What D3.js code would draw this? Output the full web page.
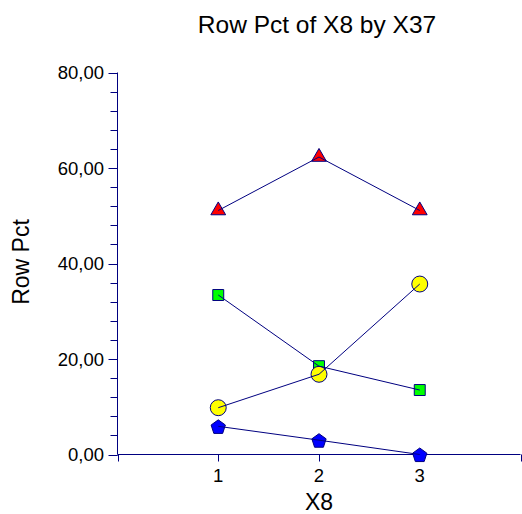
<!DOCTYPE html>
<html>
<head>
<meta charset="utf-8">
<script src="https://cdn.jsdelivr.net/npm/d3@7"></script>
<style>
  body { margin: 0; background: #fff; }
  text { font-family: Arial, "Liberation Sans", sans-serif; fill: #000; }
</style>
</head>
<body>
<script>
// X8 categories and the Row Pct of each X37 group
const categories = [1, 2, 3];
const triangleVals = [51.1, 62.3, 51.1];
const squareVals = [33.4, 18.5, 13.5];
const circleVals = [9.8, 16.8, 35.7];
const pentagonVals = [5.9, 3.0, 0.0];
const yTicks = [0, 20, 40, 60, 80];
const yMinor = d3.range(0, 81, 4);

const width = 522, height = 514;
const navy = "#000080";

const x = d3.scaleLinear().domain([0, 4]).range([117.5, 520.5]);
const y = d3.scaleLinear().domain([0, 80]).range([454.5, 72.5]);

const svg = d3.select("body").append("svg")
    .attr("width", width)
    .attr("height", height);

// y axis
svg.append("line")
    .attr("x1", x(0)).attr("x2", x(0))
    .attr("y1", y(0)).attr("y2", y(80))
    .attr("stroke", navy);
svg.selectAll(".ymin")
    .data(yMinor)
    .enter().append("line")
    .attr("x1", x(0) - 7).attr("x2", x(0))
    .attr("y1", d => Math.round(y(d)) + 0.5)
    .attr("y2", d => Math.round(y(d)) + 0.5)
    .attr("stroke", navy);
svg.selectAll(".ytick")
    .data(yTicks)
    .enter().append("line")
    .attr("x1", x(0) - 9).attr("x2", x(0))
    .attr("y1", d => Math.round(y(d)) + 0.5)
    .attr("y2", d => Math.round(y(d)) + 0.5)
    .attr("stroke", navy);
svg.selectAll(".ylab")
    .data(yTicks)
    .enter().append("text")
    .attr("x", 104)
    .attr("y", d => y(d) + 6.5)
    .attr("text-anchor", "end")
    .attr("font-size", 18.5)
    .text(d => d3.format(".2f")(d).replace(".", ","));

// x axis
svg.append("line")
    .attr("x1", x(0)).attr("x2", x(4))
    .attr("y1", y(0)).attr("y2", y(0))
    .attr("stroke", navy);
svg.selectAll(".xtick")
    .data([0, 1, 2, 3, 4])
    .enter().append("line")
    .attr("x1", d => Math.round(x(d)) + 0.5)
    .attr("x2", d => Math.round(x(d)) + 0.5)
    .attr("y1", y(0)).attr("y2", y(0) + 7)
    .attr("stroke", navy);
svg.selectAll(".xlab")
    .data(categories)
    .enter().append("text")
    .attr("x", d => x(d))
    .attr("y", 481.5)
    .attr("text-anchor", "middle")
    .attr("font-size", 18.5)
    .text(d => d);

// titles
svg.append("text")
    .attr("x", 317).attr("y", 32.5)
    .attr("text-anchor", "middle")
    .attr("font-size", 24.5)
    .text("Row Pct of X8 by X37");
svg.append("text")
    .attr("transform", "translate(29,262) rotate(-90)")
    .attr("text-anchor", "middle")
    .attr("font-size", 23)
    .text("Row Pct");
svg.append("text")
    .attr("x", 319).attr("y", 510)
    .attr("text-anchor", "middle")
    .attr("font-size", 23)
    .text("X8");

const series = [
    { vals: triangleVals, shape: d3.symbolTriangle, size: 95, fill: "#ff0000" },
    { vals: squareVals, shape: d3.symbolSquare, size: 120, fill: "#00ff00" },
    { vals: circleVals, shape: d3.symbolCircle, size: 200, fill: "#ffff00" },
    { vals: pentagonVals, shape: "pentagon", size: 7.5, fill: "#0000ff" }
];

function pentagon(r) {
    const pts = d3.range(5).map(i => {
        const a = -Math.PI / 2 + i * 2 * Math.PI / 5;
        return [r * Math.cos(a), r * Math.sin(a) + 1];
    });
    return "M" + pts.join("L") + "Z";
}

const line = d3.line()
    .x((d, i) => x(categories[i]))
    .y(d => y(d));

// markers first, connecting lines drawn over them
series.forEach(s => {
    svg.selectAll(null)
        .data(s.vals)
        .enter().append("path")
        .attr("transform", (d, i) => `translate(${x(categories[i])},${y(d)})`)
        .attr("d", s.shape === "pentagon" ? pentagon(s.size) : d3.symbol().type(s.shape).size(s.size)())
        .attr("fill", s.fill)
        .attr("stroke", navy)
        .attr("stroke-width", 1);
});
series.forEach(s => {
    svg.append("path")
        .datum(s.vals)
        .attr("d", line)
        .attr("fill", "none")
        .attr("stroke", navy)
        .attr("stroke-width", 1);
});
</script>
</body>
</html>
